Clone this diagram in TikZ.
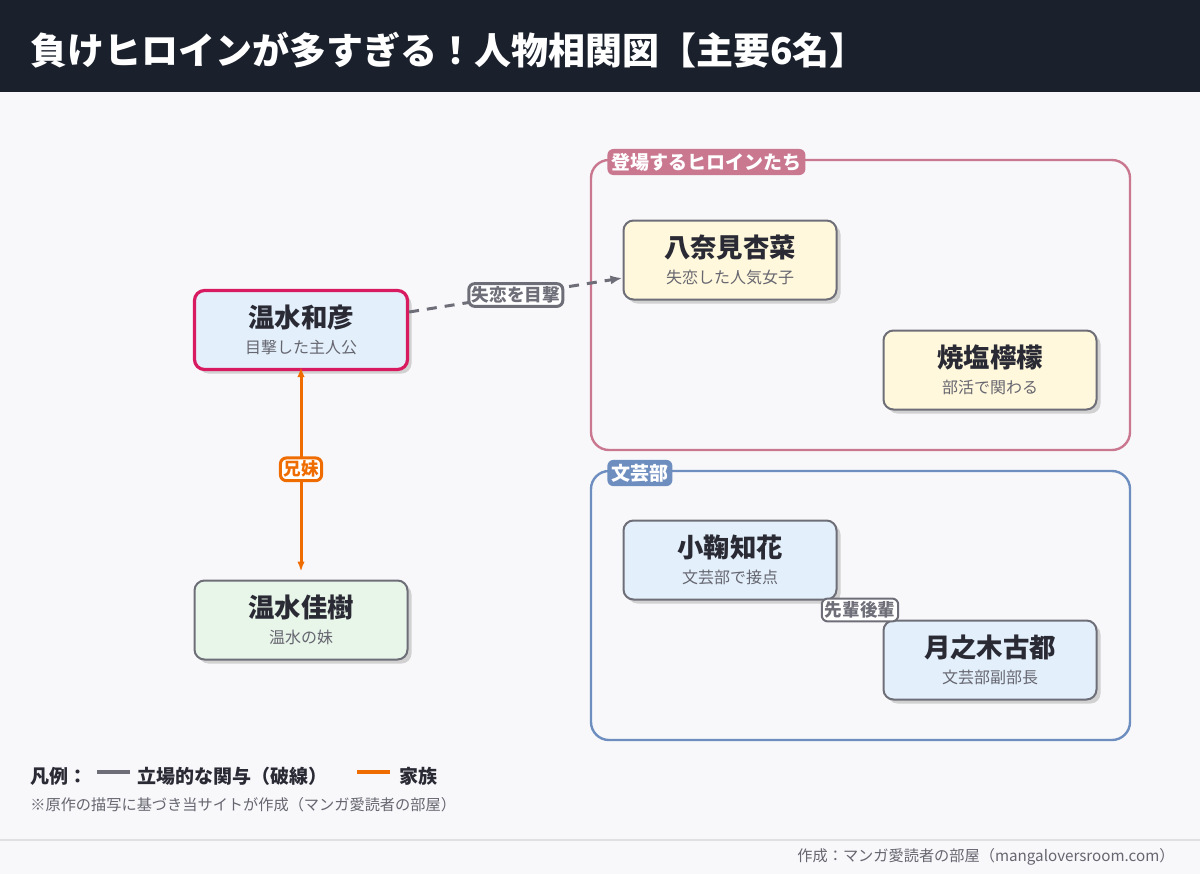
\documentclass[tikz,border=0pt]{standalone}
\usepackage{fontspec}
\setmainfont{Noto Sans CJK JP}
\usetikzlibrary{positioning,arrows.meta,shadows}
\definecolor{hdr}{HTML}{1A202C}
\definecolor{bgc}{HTML}{F8F8FB}
\definecolor{ink}{HTML}{2A2A35}
\definecolor{sub}{HTML}{666670}
\definecolor{edg}{HTML}{6E6E78}
\definecolor{pinkg}{HTML}{C97890}
\definecolor{blueg}{HTML}{6F8EC0}
\definecolor{heroc}{HTML}{D81B60}
\definecolor{fam}{HTML}{EF6C00}
\definecolor{fblue}{HTML}{E3F0FB}
\definecolor{fgreen}{HTML}{E8F5E9}
\definecolor{fyellow}{HTML}{FFF8DC}
\tikzset{
  person/.style={draw=edg, line width=1pt, rounded corners=5pt, minimum width=106.5pt,
    minimum height=39.5pt, align=center, inner sep=0pt,
    drop shadow={shadow xshift=2pt, shadow yshift=-2pt, fill=black!18, opacity=1}},
  group/.style={line width=1.2pt, rounded corners=9pt},
  tag/.style={rounded corners=3pt, text=white, font=\bfseries\fontsize{9.5}{11}\selectfont, inner sep=2pt},
  elabel/.style={draw=edg, fill=white, rounded corners=3pt, text=edg, inner sep=1.5pt,
    font=\bfseries\fontsize{8.8}{10}\selectfont},
}
\newcommand{\pname}[2]{{\bfseries\fontsize{13.2}{15}\selectfont\color{ink}#1}\\[1pt]{\fontsize{8}{10}\selectfont\color{sub}#2}}
\begin{document}
\begin{tikzpicture}[x=0.5pt, y=-0.5pt]
\useasboundingbox (0,0) rectangle (1200,874);
\fill[bgc] (0,0) rectangle (1200,874);
\fill[hdr] (0,0) rectangle (1200,92);
\node[anchor=west, text=white, inner sep=0pt, font=\bfseries\fontsize{18.5}{21}\selectfont] (title) at (30,50) {負けヒロインが多すぎる！人物相関図【主要6名】};

% groups
\draw[group, draw=pinkg] (591,160) rectangle (1130,450);
\node[tag, fill=pinkg, anchor=west] (tagH) at (607,162) {登場するヒロインたち};
\draw[group, draw=blueg] (591,471) rectangle (1130,740);
\node[tag, fill=blueg, anchor=west] (tagB) at (607,473) {文芸部};

% people
\node[person, fill=fblue, draw=heroc, line width=1.6pt] (nukumizu) at (301,330) {\pname{温水和彦}{目撃した主人公}};
\node[person, fill=fgreen] (kaju) at (301,620) {\pname{温水佳樹}{温水の妹}};
\node[person, fill=fyellow] (yanami) at (730,260) {\pname{八奈見杏菜}{失恋した人気女子}};
\node[person, fill=fyellow] (yakishio) at (990,370) {\pname{焼塩檸檬}{部活で関わる}};
\node[person, fill=fblue] (komari) at (730,560) {\pname{小鞠知花}{文芸部で接点}};
\node[person, fill=fblue] (tsukinoki) at (990,660) {\pname{月之木古都}{文芸部副部長}};

% relations
\draw[edg, line width=1.5pt, dash pattern=on 5pt off 4pt, -{Latex[length=6pt]}]
  (nukumizu.east) ++(0,-18) coordinate (a1) (a1) -- (yanami.west |- 0,278)
  node[elabel, pos=0.5, solid] (l1) {失恋を目撃};
\draw[fam, line width=1.5pt, {Latex[length=5pt]}-{Latex[length=5pt]}]
  (nukumizu.south) ++(0,-4) -- ([yshift=4pt]kaju.north)
  node[elabel, draw=fam, text=fam, midway] (l2) {兄妹};
\draw[edg, line width=1pt] (komari.south east) -- (tsukinoki.north west)
  node[elabel, midway] (l3) {先輩後輩};

% legend
\node[anchor=west, inner sep=0pt, text=ink, font=\bfseries\fontsize{9.5}{11}\selectfont] (lg) at (30,776) {凡例：};
\draw[edg, line width=2pt] (97,772) coordinate (g1) -- (130,772) coordinate (g2);
\node[anchor=west, inner sep=0pt, text=ink, font=\bfseries\fontsize{9.5}{11}\selectfont] (lg1) at (137,776) {立場的な関与（破線）};
\draw[fam, line width=2pt] (357,772) coordinate (o1) -- (390,772) coordinate (o2);
\node[anchor=west, inner sep=0pt, text=ink, font=\bfseries\fontsize{9.5}{11}\selectfont] (lg2) at (399,776) {家族};
\node[anchor=west, inner sep=0pt, text=sub, font=\fontsize{7.6}{9}\selectfont] (note) at (30,805) {※原作の描写に基づき当サイトが作成（マンガ愛読者の部屋）};

% footer
\draw[black!12, line width=0.8pt] (0,840) -- (1200,840);
\node[anchor=east, inner sep=0pt, text=sub, font=\fontsize{7.6}{9}\selectfont] (foot) at (1175,857) {作成：マンガ愛読者の部屋（mangaloversroom.com）};
\end{tikzpicture}
\end{document}
